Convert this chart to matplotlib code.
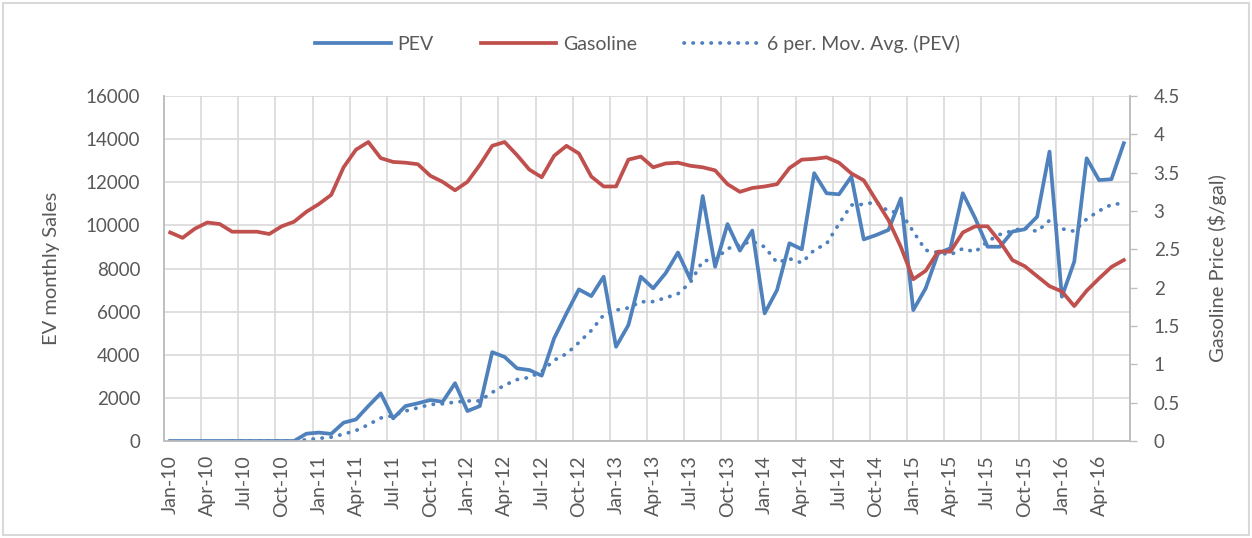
import matplotlib
matplotlib.use("Agg")
import matplotlib.pyplot as plt
from matplotlib.ticker import FixedLocator
from matplotlib.patches import Rectangle
import pandas as pd

plt.rcParams['font.family'] = ['Lato', 'DejaVu Sans']

month_names = ['Jan', 'Feb', 'Mar', 'Apr', 'May', 'Jun',
               'Jul', 'Aug', 'Sep', 'Oct', 'Nov', 'Dec']
months = [f"{m}-{y:02d}" for y in range(10, 17) for m in month_names][:78]

pev = [0, 0, 0, 0, 0, 0, 0, 0, 0, 0, 0, 340,
       390, 330, 850, 1000, 1620, 2210, 1050, 1620, 1750, 1900, 1820, 2680,
       1390, 1620, 4120, 3900, 3370, 3290, 3030, 4760, 5920, 7030, 6720, 7620,
       4370, 5380, 7620, 7080, 7780, 8740, 7500, 11360, 8080, 10060, 8830, 9760,
       5920, 7000, 9170, 8890, 12420, 11490, 11440, 12260, 9350, 9550, 9790, 11250,
       6070, 7080, 8700, 8940, 11490, 10330, 9010, 9010, 9710, 9820, 10400, 13420,
       6690, 8320, 13110, 12100, 12140, 13810]

gasoline = [2.72, 2.65, 2.77, 2.85, 2.83, 2.73, 2.73, 2.73, 2.70, 2.80, 2.86, 2.99,
            3.09, 3.21, 3.57, 3.80, 3.90, 3.69, 3.64, 3.63, 3.61, 3.46, 3.38, 3.27,
            3.38, 3.60, 3.85, 3.90, 3.73, 3.54, 3.44, 3.72, 3.85, 3.75, 3.45, 3.32,
            3.32, 3.67, 3.71, 3.57, 3.62, 3.63, 3.59, 3.57, 3.53, 3.35, 3.25, 3.30,
            3.32, 3.35, 3.56, 3.67, 3.68, 3.70, 3.63, 3.49, 3.40, 3.14, 2.88, 2.53,
            2.11, 2.22, 2.47, 2.47, 2.72, 2.80, 2.80, 2.60, 2.36, 2.28, 2.15, 2.02,
            1.95, 1.76, 1.96, 2.12, 2.27, 2.36]

left_ticks = [0, 2000, 4000, 6000, 8000, 10000, 12000, 14000, 16000]
right_ticks = [0, 0.5, 1, 1.5, 2, 2.5, 3, 3.5, 4, 4.5]
right_labels = ['0', '0.5', '1', '1.5', '2', '2.5', '3', '3.5', '4', '4.5']

# Excel-style 6 period moving average trendline of the PEV series
pev_ma = pd.Series(pev).rolling(6).mean()

BLUE = '#4F81BD'
RED = '#C0504D'
TXT = '#595959'
GRID = '#D9D9D9'
LW = 2.7

fig = plt.figure(figsize=(12.52, 5.38), dpi=100)
fig.patches.append(Rectangle((3 / 1252, 3 / 538), 1246 / 1252, 532 / 538,
                             transform=fig.transFigure, fill=False,
                             edgecolor='#D9D9D9', linewidth=1.5))
ax = fig.add_axes([164 / 1252, 1 - 441 / 538, 966 / 1252, 345 / 538])
ax2 = ax.twinx()

x = list(range(len(months)))
l1, = ax.plot(x, pev, color=BLUE, lw=LW, solid_joinstyle='round', label='PEV', zorder=3)
l3, = ax.plot(x, pev_ma, color=BLUE, lw=LW, linestyle=(0, (0.1, 2.3)),
              dash_capstyle='round', label='6 per. Mov. Avg. (PEV)', zorder=3)
l2, = ax2.plot(x, gasoline, color=RED, lw=LW, solid_joinstyle='round', label='Gasoline', zorder=3)

ax.set_xlim(-0.5, len(months) - 0.5)
ax.set_ylim(0, 16000)
ax2.set_ylim(0, 4.5)

ax.set_yticks(left_ticks)
ax.set_yticklabels([str(v) for v in left_ticks])
ax2.set_yticks(right_ticks)
ax2.set_yticklabels(right_labels)

ax.set_xticks(x[::3])
ax.set_xticklabels(months[::3], rotation=90)
ax.xaxis.set_minor_locator(FixedLocator([v - 0.5 for v in range(0, len(months) + 1, 3)]))

ax.grid(True, which='major', axis='y', color=GRID, lw=1.2)
ax.grid(True, which='minor', axis='x', color=GRID, lw=1.2)
ax.set_axisbelow(True)

ax.tick_params(axis='y', length=0, pad=17, labelsize=13.5, labelcolor=TXT)
ax.tick_params(axis='x', which='major', length=0, pad=10, labelsize=14, labelcolor=TXT)
ax.tick_params(axis='x', which='minor', length=0)
ax2.tick_params(axis='y', length=5, width=1, color='#BFBFBF', pad=12,
                labelsize=13.5, labelcolor=TXT)

for a in (ax, ax2):
    for s in a.spines.values():
        s.set_color('#BFBFBF')
        s.set_linewidth(1.2)
    a.spines['top'].set_visible(False)

ax.set_ylabel('EV monthly Sales', fontsize=14.5, color=TXT)
ax.yaxis.set_label_coords((60 - 164) / 966, 0.5)
ax2.set_ylabel('Gasoline Price ($/gal)', fontsize=14.5, color=TXT)
ax2.yaxis.set_label_coords((1208 - 164) / 966, 0.5)

fig.legend(handles=[l1, l2, l3], loc='center', bbox_to_anchor=(0.509, 1 - 44 / 538),
           ncol=3, frameon=False, fontsize=14, handlelength=3.9, columnspacing=2.4,
           handletextpad=0.35, labelcolor=TXT)

fig.savefig('out.png', dpi=100)
